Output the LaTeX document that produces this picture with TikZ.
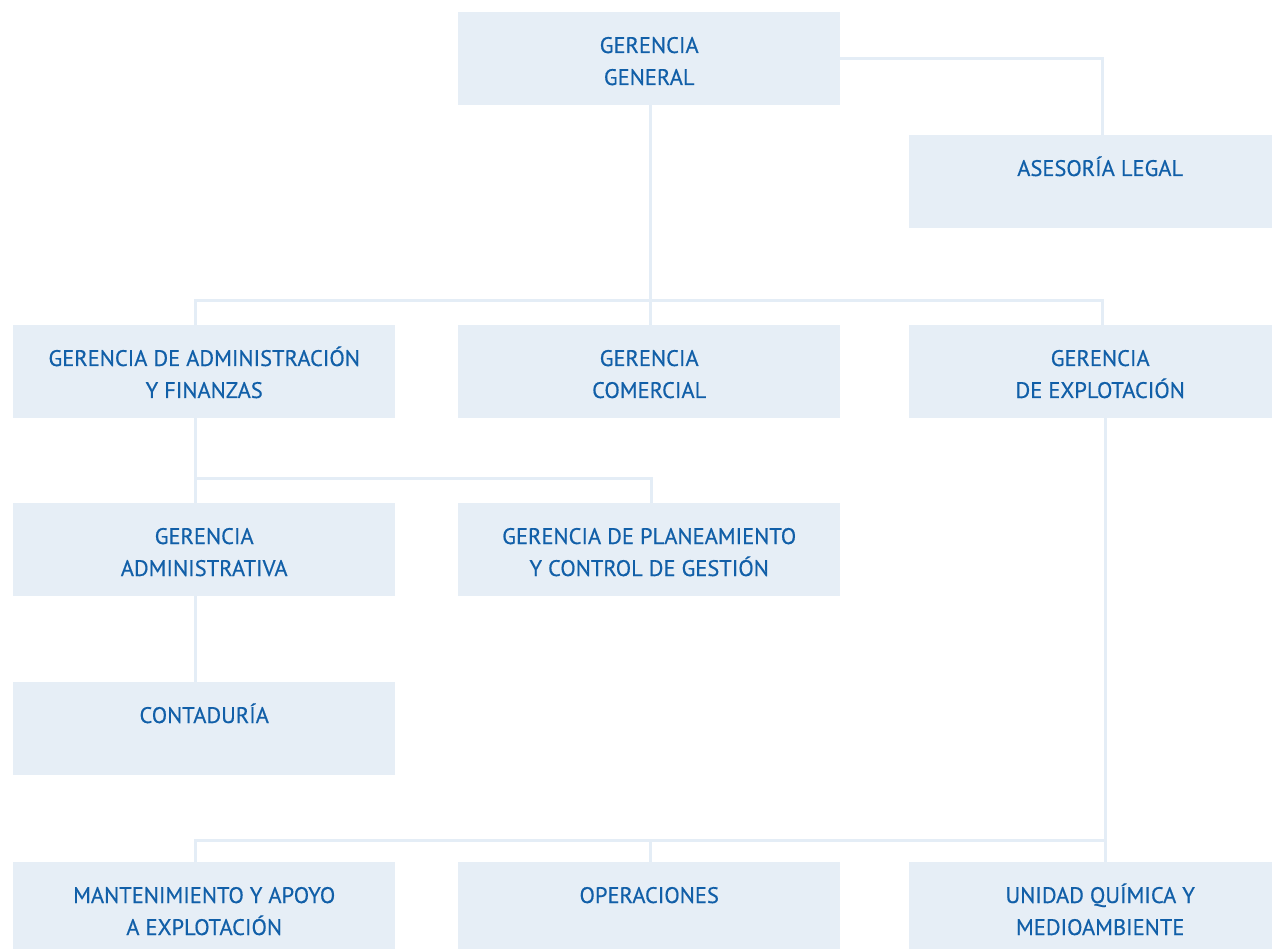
\documentclass[tikz,border=0pt]{standalone}
\usepackage{fontspec}
\setmainfont{PT Sans}
\newfontfamily\lblfont{PT Sans}[FakeBold=0.45]
\usetikzlibrary{calc}
\definecolor{boxfill}{HTML}{E6EEF6}
\definecolor{linec}{HTML}{E4EDF6}
\definecolor{txt}{HTML}{115FA8}
\begin{document}
\begin{tikzpicture}[x=1pt,y=-1pt,
  box/.style={fill=boxfill,draw=none,inner sep=0pt,minimum width=382pt,minimum height=93pt,anchor=north west},
  lbl/.style={text=txt,inner sep=0pt,text height=16pt,text depth=0pt,anchor=center,font=\lblfont\fontsize{22.5}{25}\selectfont},
  conn/.style={draw=linec,line width=3pt}]
\useasboundingbox (0,0) rectangle (1272,949);
\fill[white] (0,0) rectangle (1272,949);
% boxes
\node[box] (gg) at (458,12) {};
\node[box] (al) at (909,135) {};
\node[box] (ga) at (13,325) {};
\node[box] (gc) at (458,325) {};
\node[box] (ge) at (909,325) {};
\node[box] (gad) at (13,503) {};
\node[box] (gp) at (458,503) {};
\node[box] (ct) at (13,682) {};
\node[box] (mt) at (13,862) {};
\node[box] (op) at (458,862) {};
\node[box] (uq) at (909,862) {};
% junction coordinates
\coordinate (jgl) at (1102,59);
\coordinate (j1c) at (650,301);
\coordinate (j1l) at (195,301);
\coordinate (j1r) at (1102,301);
\coordinate (j2l) at (195,478);
\coordinate (j2r) at (651,478);
\coordinate (j3l) at (195,840);
\coordinate (j3c) at (650,840);
\coordinate (j3r) at (1105,840);
% connectors
\draw[conn] (gg.east |- jgl) -- (jgl) -- (jgl |- al.north);
\draw[conn] (j1c |- gg.south) -- (j1c);
\draw[conn] (j1l |- ga.north) -- (j1l) -- (j1r) -- (j1r |- ge.north);
\draw[conn] (j1c) -- (j1c |- gc.north);
\draw[conn] (j2l |- ga.south) -- (j2l |- gad.north);
\draw[conn] (j2l) -- (j2r) -- (j2r |- gp.north);
\draw[conn] (j2l |- gad.south) -- (j2l |- ct.north);
\draw[conn] (j3r |- ge.south) -- (j3r |- uq.north);
\draw[conn] (j3l |- mt.north) -- (j3l) -- (j3r);
\draw[conn] (j3c) -- (j3c |- op.north);
% labels
\node[lbl] (t1) at ($(gg.north)+(0,33)$) {GERENCIA};
\node[lbl] (t2) at ($(gg.north)+(0,65)$) {GENERAL};
\node[lbl] (t3) at ($(al.north)+(0,33)$) {ASESORÍA LEGAL};
\node[lbl] (t4) at ($(ga.north)+(0,33)$) {GERENCIA DE ADMINISTRACIÓN};
\node[lbl] (t5) at ($(ga.north)+(0,65)$) {Y FINANZAS};
\node[lbl] (t6) at ($(gc.north)+(0,33)$) {GERENCIA};
\node[lbl] (t7) at ($(gc.north)+(0,65)$) {COMERCIAL};
\node[lbl] (t8) at ($(ge.north)+(0,33)$) {GERENCIA};
\node[lbl] (t9) at ($(ge.north)+(0,65)$) {DE EXPLOTACIÓN};
\node[lbl] (t10) at ($(gad.north)+(0,33)$) {GERENCIA};
\node[lbl] (t11) at ($(gad.north)+(0,65)$) {ADMINISTRATIVA};
\node[lbl] (t12) at ($(gp.north)+(0,33)$) {GERENCIA DE PLANEAMIENTO};
\node[lbl] (t13) at ($(gp.north)+(0,65)$) {Y CONTROL DE GESTIÓN};
\node[lbl] (t14) at ($(ct.north)+(0,33)$) {CONTADURÍA};
\node[lbl] (t15) at ($(mt.north)+(0,33)$) {MANTENIMIENTO Y APOYO};
\node[lbl] (t16) at ($(mt.north)+(0,65)$) {A EXPLOTACIÓN};
\node[lbl] (t17) at ($(op.north)+(0,33)$) {OPERACIONES};
\node[lbl] (t18) at ($(uq.north)+(0,33)$) {UNIDAD QUÍMICA Y};
\node[lbl] (t19) at ($(uq.north)+(0,65)$) {MEDIOAMBIENTE};
\end{tikzpicture}
\end{document}
